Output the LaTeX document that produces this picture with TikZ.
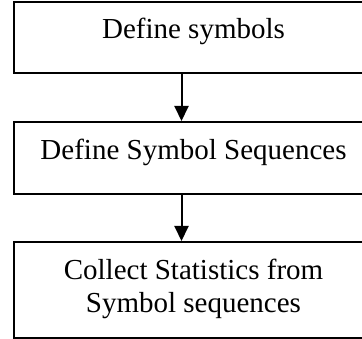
\documentclass[tikz,border=0pt]{standalone}
\usepackage{fontspec}
\setmainfont{Liberation Serif}
\usetikzlibrary{arrows.meta}
\begin{document}
\begin{tikzpicture}[x=1pt,y=-1pt,
  stepbox/.style={draw=black, line width=2pt, anchor=north west, inner sep=0pt,
    minimum width=359pt, font=\fontsize{29}{33}\selectfont, align=center},
  flow/.style={line width=2pt, -{Triangle[length=15pt,width=14pt]}}]
\useasboundingbox (0,0) rectangle (362,339);
\clip (0,0) rectangle (362,339);
\node[stepbox, minimum height=71pt, text height=20pt, text depth=17pt] (b1) at (13,1) {Define symbols};
\node[stepbox, minimum height=72pt, text height=20pt, text depth=16pt] (b2) at (13,121) {Define Symbol Sequences};
\node[stepbox, minimum height=96pt, text height=62pt, text depth=17pt] (b3) at (13,241) {Collect Statistics from\\Symbol sequences};
\draw[flow] ([xshift=-12pt]b1.south) -- ([xshift=-12pt]b2.north);
\draw[flow] ([xshift=-12pt]b2.south) -- ([xshift=-12pt]b3.north);
\end{tikzpicture}
\end{document}
